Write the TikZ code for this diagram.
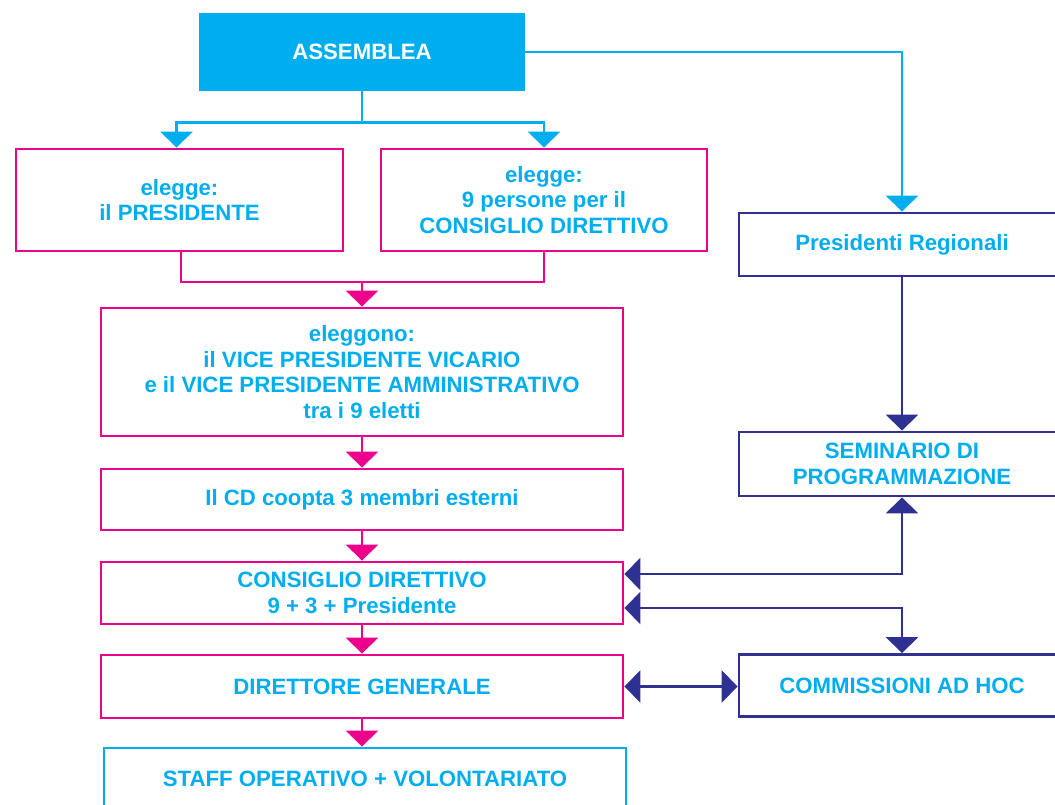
\documentclass[tikz,border=0pt]{standalone}
\usepackage{fontspec}
\setmainfont{Liberation Sans}
\usetikzlibrary{arrows.meta,calc}
\definecolor{cy}{HTML}{00AEEF}
\definecolor{mg}{HTML}{EC008C}
\definecolor{nv}{HTML}{2E3192}
\tikzset{
  txt/.style={font=\bfseries\fontsize{22.2}{25.5}\selectfont, text=cy, align=center, inner sep=0pt},
  mbox/.style={txt, draw=mg, line width=2.8pt, rectangle},
  nbox/.style={txt, draw=nv, line width=2.8pt, rectangle},
  cbox/.style={txt, draw=cy, line width=2.8pt, rectangle},
  tip/.style={-{Triangle[width=32pt,length=16pt]}},
  ctip/.style={{Triangle[width=32pt,length=16pt]}-{Triangle[width=32pt,length=16pt]}},
  cline/.style={draw=cy, line width=2.8pt},
  mline/.style={draw=mg, line width=2.8pt},
  nline/.style={draw=nv, line width=2.8pt},
}
\begin{document}
\begin{tikzpicture}[x=1pt,y=-1pt]
\useasboundingbox (0,0) rectangle (1055,805);
\fill[white] (0,0) rectangle (1055,805);
\clip (0,0) rectangle (1055,805);
\node[txt, fill=cy, text=white, minimum width=326pt, minimum height=78pt] (ass) at (362,52) {ASSEMBLEA};
\node[mbox, minimum width=327pt, minimum height=102pt] (le) at (179.5,200) {elegge:\\il PRESIDENTE};
\node[mbox, minimum width=326pt, minimum height=102pt] (re) at (544,200) {elegge:\\9 persone per il\\CONSIGLIO DIRETTIVO};
\node[nbox, minimum width=326pt, minimum height=63pt] (pres) at (902,244.5) {Presidenti Regionali};
\node[mbox, minimum width=522pt, minimum height=128pt] (el) at (362,372) {eleggono:\\il VICE PRESIDENTE VICARIO\\e il VICE PRESIDENTE AMMINISTRATIVO\\tra i 9 eletti};
\node[mbox, minimum width=522pt, minimum height=61pt] (co) at (362,499.5) {Il CD coopta 3 membri esterni};
\node[mbox, minimum width=522pt, minimum height=62pt] (cd) at (362,593) {CONSIGLIO DIRETTIVO\\9 + 3 + Presidente};
\node[mbox, minimum width=522pt, minimum height=63pt] (dg) at (362,686.5) {DIRETTORE GENERALE};
\node[cbox, minimum width=522pt, minimum height=62pt] (st) at (365,779) {STAFF OPERATIVO + VOLONTARIATO};
\node[nbox, minimum width=326pt, minimum height=64pt] (sem) at (902,464) {SEMINARIO DI\\PROGRAMMAZIONE};
\node[nbox, minimum width=326pt, minimum height=62pt] (com) at (902,685.5) {COMMISSIONI AD HOC};
% cyan connectors
\coordinate (j1) at ($(ass.south)+(0,31)$);
\draw[cline] (ass.south) -- (j1);
\draw[cline, tip] (j1) -| ([xshift=-3pt]le.north);
\draw[cline, tip] (j1) -| (re.north);
\draw[cline, tip] (ass.east) -| (pres.north);
% magenta connectors
\coordinate (j2) at (362,282);
\draw[mline] ([xshift=1.5pt]le.south) |- (j2) -| (re.south);
\draw[mline, tip] (j2) -- (el.north);
\draw[mline, tip] (el.south) -- (co.north);
\draw[mline, tip] (co.south) -- (cd.north);
\draw[mline, tip] (cd.south) -- (dg.north);
\draw[mline, tip] (dg.south) -- (st.north -| dg.south);
% navy connectors
\draw[nline, tip] (pres.south) -- (sem.north);
\draw[nline, ctip] ([yshift=19pt]cd.east) -| (sem.south);
\draw[nline, ctip] ([yshift=-15pt]cd.east) -| (com.north);
\draw[nline, ctip] (dg.east) -- (com.west |- dg.east);
\end{tikzpicture}
\end{document}
